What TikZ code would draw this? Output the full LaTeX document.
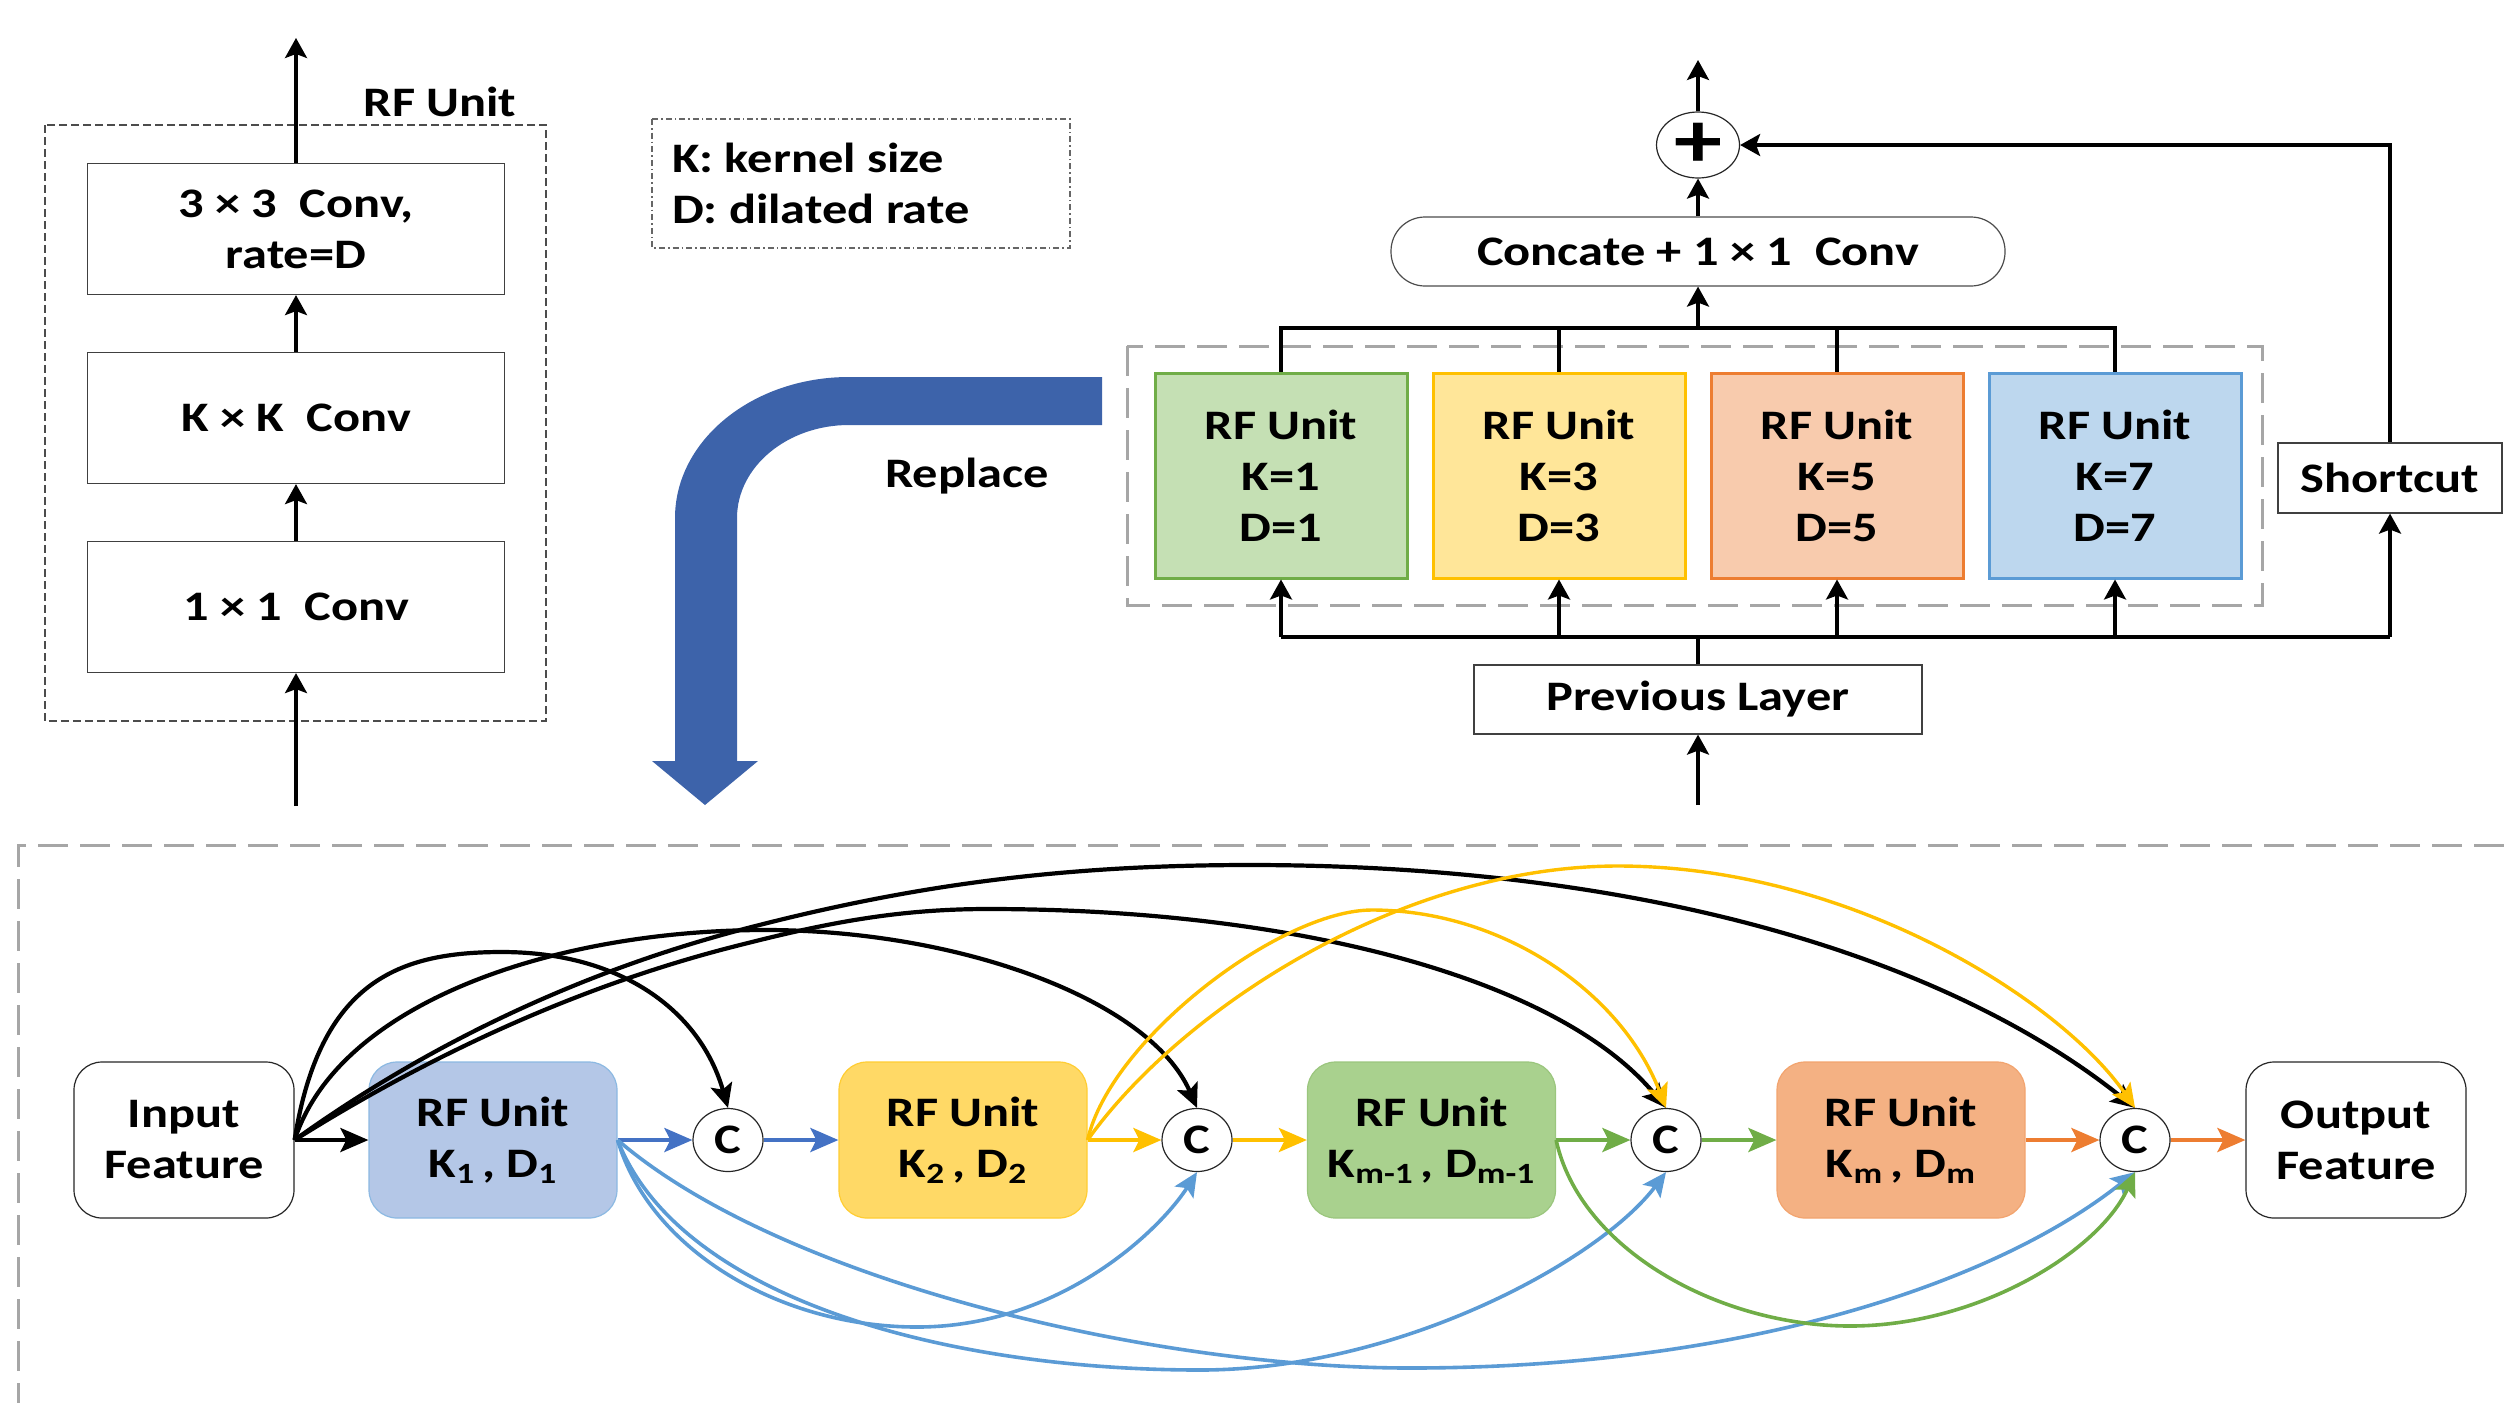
\documentclass[tikz,border=0pt]{standalone}
\usepackage{fontspec}
\setmainfont{Carlito}[FakeStretch=1.2]
\usetikzlibrary{arrows.meta,shapes.geometric}
\definecolor{arrblue}{HTML}{3D63AA}
\definecolor{cblue}{HTML}{4472C4}
\definecolor{lblue}{HTML}{5B9BD5}
\definecolor{cyellow}{HTML}{FFC000}
\definecolor{cgreen}{HTML}{70AD47}
\definecolor{corange}{HTML}{ED7D31}
\definecolor{ugreen}{HTML}{C5E0B4}
\definecolor{uyellow}{HTML}{FFE699}
\definecolor{uorange}{HTML}{F8CBAD}
\definecolor{ublue}{HTML}{BDD7EE}
\definecolor{bblue}{HTML}{B4C7E7}
\definecolor{byellow}{HTML}{FFD966}
\definecolor{bgreen}{HTML}{A9D18E}
\definecolor{borange}{HTML}{F4B183}
\definecolor{dgray}{HTML}{A6A6A6}
\tikzset{
  plainbox/.style={draw=black!75, line width=0.6pt, fill=white, inner sep=0pt, align=center},
  unitbox/.style={line width=1.5pt, inner sep=0pt, minimum width=126pt, minimum height=102.5pt, align=center},
  rbox/.style={rounded corners=14pt, inner sep=0pt, minimum width=124pt, minimum height=78pt, align=center, line width=0.6pt},
  cnode/.style={ellipse, draw=black!85, line width=0.6pt, minimum width=35pt, minimum height=31.5pt, inner sep=0pt, fill=white},
  arr/.style={-{Stealth[length=10pt,width=11pt,inset=2pt]}, line width=1.6pt},
  bigarr/.style={-{Stealth[length=14pt,width=12pt,inset=3pt]}, line width=2pt},
  curve/.style={-{Stealth[length=12pt,width=11pt,inset=2.5pt]}, line width=1.8pt},
  bus/.style={line width=1.6pt},
  grayframe/.style={draw=dgray, dash pattern=on 15pt off 6pt, line width=1.5pt}
}
\begin{document}
\begin{tikzpicture}[x=0.5pt,y=-0.5pt, font=\fontsize{21}{25.5}\selectfont\bfseries]
\useasboundingbox (0,0) rectangle (2504,1403);

% ---------- top left: RF unit ----------
\node[plainbox, minimum width=208.5pt, minimum height=65.5pt] (conv3) at (296,229) {3 × 3~~Conv,\\rate=D};
\node[plainbox, minimum width=208.5pt, minimum height=65.5pt] (convk) at (296,418) {K × K~~Conv};
\node[plainbox, minimum width=208.5pt, minimum height=65.5pt] (conv1) at (296,607) {1 × 1~~Conv};
\draw[dash pattern=on 4pt off 2pt, line width=0.6pt, black!70] (45,125) rectangle (546,721);
\node (rflabel) at (440,102) {RF Unit};
\coordinate (tlin) at (296,806);
\coordinate (tlout) at (296,38);
\draw[arr] (tlin) -- (conv1);
\draw[arr] (conv1) -- (convk);
\draw[arr] (convk) -- (conv3);
\draw[arr] (conv3) -- (tlout);

% ---------- legend ----------
\draw[black!60, line width=0.6pt, dash pattern=on 3pt off 1.5pt on 0.8pt off 1.5pt] (652,119) rectangle (1070,248);
\node[anchor=west, align=left] (legend) at (665,183) {K: kernel size\\D: dilated rate};

% ---------- replace arrow ----------
\fill[arrblue] (1102,377) -- (849,377) .. controls (753,377) and (675,440) .. (675,518)
  -- (675,761) -- (652,761) -- (705,805) -- (758,761) -- (737,761) -- (737,518)
  .. controls (737,467) and (787,425) .. (849,425) -- (1102,425) -- cycle;
\node (replace) at (967,476) {Replace};

% ---------- top right ----------
\node[ellipse, draw=black!85, line width=0.6pt, minimum width=41.5pt, minimum height=33pt, inner sep=0pt] (plus) at (1698,145) {\fontsize{40}{40}\selectfont +};
\node[draw=black!70, line width=0.6pt, rounded corners=17pt, minimum width=307pt, minimum height=34.5pt, inner sep=0pt] (concat) at (1698,251.5) {Concate + 1 × 1~~Conv};
\node[unitbox, draw=cgreen, fill=ugreen] (u1) at (1281,475.5) {RF Unit\\K=1\\D=1};
\node[unitbox, draw=cyellow, fill=uyellow] (u2) at (1559,475.5) {RF Unit\\K=3\\D=3};
\node[unitbox, draw=corange, fill=uorange] (u3) at (1837,475.5) {RF Unit\\K=5\\D=5};
\node[unitbox, draw=lblue, fill=ublue] (u4) at (2115,475.5) {RF Unit\\K=7\\D=7};
\draw[grayframe] (1127,346) rectangle (2262,605);
\node[plainbox, minimum width=224pt, minimum height=34.5pt] (prev) at (1698,699.5) {Previous Layer};
\node[plainbox, minimum width=112pt, minimum height=35pt] (short) at (2390,478) {Shortcut};

\coordinate (topbus) at (1698,328);
\coordinate (lowbus) at (1698,637);
\coordinate (topout) at (1698,60);
\coordinate (previn) at (1698,805);
\draw[bus] (u1.north) -- (u1.north |- topbus) -- (u4.north |- topbus) -- (u4.north);
\draw[bus] (u2.north) -- (u2.north |- topbus);
\draw[bus] (u3.north) -- (u3.north |- topbus);
\draw[arr] (topbus) -- (concat.south);
\draw[arr] (concat) -- (plus);
\draw[arr] (plus) -- (topout);
\draw[bus] (prev.north) -- (lowbus);
\draw[bus] (u1.south |- lowbus) -- (short.south |- lowbus);
\draw[arr] (u1.south |- lowbus) -- (u1.south);
\draw[arr] (u2.south |- lowbus) -- (u2.south);
\draw[arr] (u3.south |- lowbus) -- (u3.south);
\draw[arr] (u4.south |- lowbus) -- (u4.south);
\draw[arr] (short.south |- lowbus) -- (short.south);
\draw[arr] (short.north) |- (plus.east);
\draw[arr] (previn) -- (prev.south);

% ---------- bottom ----------
\draw[grayframe] (2504,845) -- (18,845) -- (18,1403);
\node[rbox, draw=black!85, fill=white, minimum width=110pt] (inp) at (184,1140) {Input\\Feature};
\node[rbox, draw=lblue!70, fill=bblue] (rf1) at (493,1140) {RF Unit\\K\textsubscript{1}\,, D\textsubscript{1}};
\node[cnode] (c1) at (728,1140) {C};
\node[rbox, draw=cyellow!80, fill=byellow] (rf2) at (963,1140) {RF Unit\\K\textsubscript{2}\,, D\textsubscript{2}};
\node[cnode] (c2) at (1197,1140) {C};
\node[rbox, draw=cgreen!70, fill=bgreen] (rf3) at (1431.5,1140) {RF Unit\\K\textsubscript{m-1}\,, D\textsubscript{m-1}};
\node[cnode] (c3) at (1666,1140) {C};
\node[rbox, draw=corange!70, fill=borange] (rf4) at (1901,1140) {RF Unit\\K\textsubscript{m}\,, D\textsubscript{m}};
\node[cnode] (c4) at (2135,1140) {C};
\node[rbox, draw=black!85, fill=white, minimum width=110pt] (outp) at (2356,1140) {Output\\Feature};

\draw[bigarr, black] (inp) -- (rf1);
\draw[bigarr, cblue] (rf1) -- (c1);
\draw[bigarr, cblue] (c1) -- (rf2);
\draw[bigarr, cyellow] (rf2) -- (c2);
\draw[bigarr, cyellow] (c2) -- (rf3);
\draw[bigarr, cgreen] (rf3) -- (c3);
\draw[bigarr, cgreen] (c3) -- (rf4);
\draw[bigarr, corange] (rf4) -- (c4);
\draw[bigarr, corange] (c4) -- (outp);

% black skip connections
\draw[curve, black, line width=2.1pt] (inp.east) .. controls (320,980) and (400,952) .. (502,952) .. controls (620,952) and (700,1010) .. (c1.north);
\draw[curve, black, line width=2.1pt] (inp.east) .. controls (340,1000) and (560,930) .. (765,930) .. controls (960,930) and (1150,1000) .. (c2.north);
\draw[curve, black, line width=2.1pt] (inp.east) .. controls (430,1055) and (580,985) .. (740,945) .. controls (830,922) and (900,909) .. (988,909) .. controls (1300,909) and (1560,980) .. (c3.north);
\draw[curve, black, line width=2.1pt] (inp.east) .. controls (420,1050) and (570,975) .. (740,930) .. controls (900,888) and (1050,865) .. (1250,865) .. controls (1650,865) and (1950,960) .. (c4.north);
% yellow
\draw[curve, cyellow, line width=1.7pt] (rf2.east) .. controls (1110,1040) and (1280,910) .. (1372,910) .. controls (1500,910) and (1620,990) .. (c3.north);
\draw[curve, cyellow, line width=1.7pt] (rf2.east) .. controls (1180,1010) and (1400,866) .. (1618,866) .. controls (1850,866) and (2060,1000) .. (c4.north);
% blue
\draw[curve, lblue] (rf1.east) .. controls (650,1250) and (780,1327) .. (917,1327) .. controls (1060,1327) and (1160,1230) .. (c2.south);
\draw[curve, lblue] (rf1.east) .. controls (680,1300) and (950,1370) .. (1200,1370) .. controls (1400,1370) and (1600,1260) .. (c3.south);
\draw[curve, lblue] (rf1.east) .. controls (780,1280) and (1150,1368) .. (1410,1368) .. controls (1750,1368) and (2000,1280) .. (c4.south);
% green
\draw[curve, cgreen] (rf3.east) .. controls (1580,1250) and (1720,1326) .. (1850,1326) .. controls (1980,1326) and (2100,1250) .. (c4.south);
\end{tikzpicture}
\end{document}
